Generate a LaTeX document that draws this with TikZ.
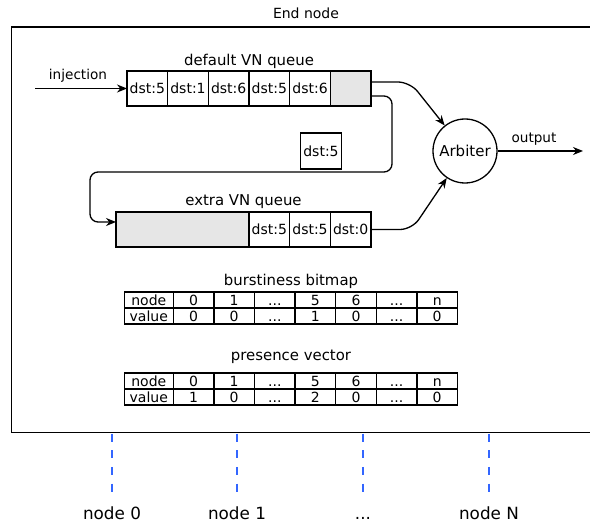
\documentclass[tikz,border=0pt]{standalone}
\usepackage{fontspec}
\setmainfont{DejaVu Sans}
\usetikzlibrary{arrows.meta}
\definecolor{qgray}{HTML}{E6E6E6}
\definecolor{dblue}{HTML}{3366FF}
\newcommand\dts{...}
\begin{document}
\begin{tikzpicture}[x=1pt,y=-1pt,font=\fontsize{14}{16}\selectfont]
\tikzset{
 qcell/.style={draw, line width=1.3pt, minimum width=40.67pt, minimum height=35pt, inner sep=0pt, outer sep=0pt},
 tcell/.style={draw, line width=1.3pt, minimum width=40.6pt, minimum height=16pt, inner sep=0pt, outer sep=0pt, text height=10.2pt, text depth=0pt},
 hcell/.style={tcell, minimum width=49pt},
 arr/.style={-{Stealth[length=10pt,width=8pt]}, line width=1.3pt},
 lbl/.style={inner sep=0pt},
 biglbl/.style={inner sep=0pt, font=\fontsize{14.9}{17}\selectfont},
 smalllbl/.style={inner sep=0pt, font=\fontsize{13.6}{16}\selectfont},
 busline/.style={dblue, line width=2pt, dash pattern=on 8pt off 8.7pt},
 buslbl/.style={inner sep=0pt, font=\fontsize{16.8}{19}\selectfont, text height=12.8pt, text depth=0pt},
}
\useasboundingbox (0,0) rectangle (590,524);
% outer box
\draw[line width=1.5pt] (591,27) -- (11.5,27) -- (11.5,432.5) -- (591,432.5);
\node[lbl] (title) at (306,13) {End node};

% default VN queue
\foreach \t [count=\i] in {dst:5,dst:1,dst:6,dst:5,dst:6}
  \node[qcell] (q\i) at ({127+40.67*(\i-0.5)},88.5) {\t};
\node[qcell, fill=qgray] (q6) at ({127+40.67*5.5},88.5) {};
\node[biglbl] (qlabel) at (249,61) {default VN queue};

% injection
\coordinate (inj) at (35,88.5);
\draw[arr] (inj) -- (q1.west);
\node[smalllbl] (injlabel) at (78,76) {injection};

% arbiter
\node[draw, circle, line width=1.3pt, minimum size=64pt, inner sep=0pt, font=\fontsize{15}{17}\selectfont] (arb) at (465,151) {Arbiter};
\coordinate (out) at (583,151);
\draw[arr] (arb) -- (out);
\node[smalllbl] (outlabel) at (534,139) {output};

% extra VN queue
\node[qcell, fill=qgray, minimum width=133pt] (eg) at (182.5,229.5) {};
\foreach \t [count=\i] in {dst:5,dst:5,dst:0}
  \node[qcell] (e\i) at ({249+40.67*(\i-0.5)},229.5) {\t};
\node[biglbl] (elabel) at (243.5,202) {extra VN queue};

% single packet
\node[draw, line width=1.3pt, minimum width=40.7pt, minimum height=36pt, inner sep=0pt] (pkt) at (321,151) {dst:5};

% connectors
\draw[arr, rounded corners=12pt] ([yshift=6.5pt]q6.east) -- ++(39,0) -- (arb);
\draw[arr, rounded corners=12pt] (e3.east) -- ++(41,0) -- (arb);
\coordinate (lp) at (90,222);
\draw[arr, rounded corners=8pt] ([yshift=-7.5pt]q6.east) -- (392,96) -- (392,172) -- (90,172) -- (lp) -- (lp -| eg.west);

% burstiness bitmap
\node[biglbl] (blabel) at (291,281) {burstiness bitmap};
\node[hcell] (bn0) at (148.8,300) {node};
\node[hcell] (bv0) at (148.8,316) {value};
\foreach \a/\b [count=\j] in {0/0,1/0,\dts/\dts,5/1,6/0,\dts/\dts,n/0}{
  \node[tcell] (bn\j) at ({193.6+40.6*(\j-1)},300) {\a};
  \node[tcell] (bv\j) at ({193.6+40.6*(\j-1)},316) {\b};
}

% presence vector
\node[biglbl] (plabel) at (291,357) {presence vector};
\node[hcell] (pn0) at (148.8,381) {node};
\node[hcell] (pv0) at (148.8,397) {value};
\foreach \a/\b [count=\j] in {0/1,1/0,\dts/\dts,5/2,6/0,\dts/\dts,n/0}{
  \node[tcell] (pn\j) at ({193.6+40.6*(\j-1)},381) {\a};
  \node[tcell] (pv\j) at ({193.6+40.6*(\j-1)},397) {\b};
}

% network nodes
\foreach \x/\t [count=\k] in {112/node 0,237/node 1,363/\dts,489/node N}{
  \coordinate (bt\k) at (\x,433.5);
  \coordinate (bb\k) at (\x,497);
  \draw[busline] (bt\k) -- (bb\k);
  \node[buslbl] (nl\k) at (\x,513) {\t};
}
\end{tikzpicture}
\end{document}
